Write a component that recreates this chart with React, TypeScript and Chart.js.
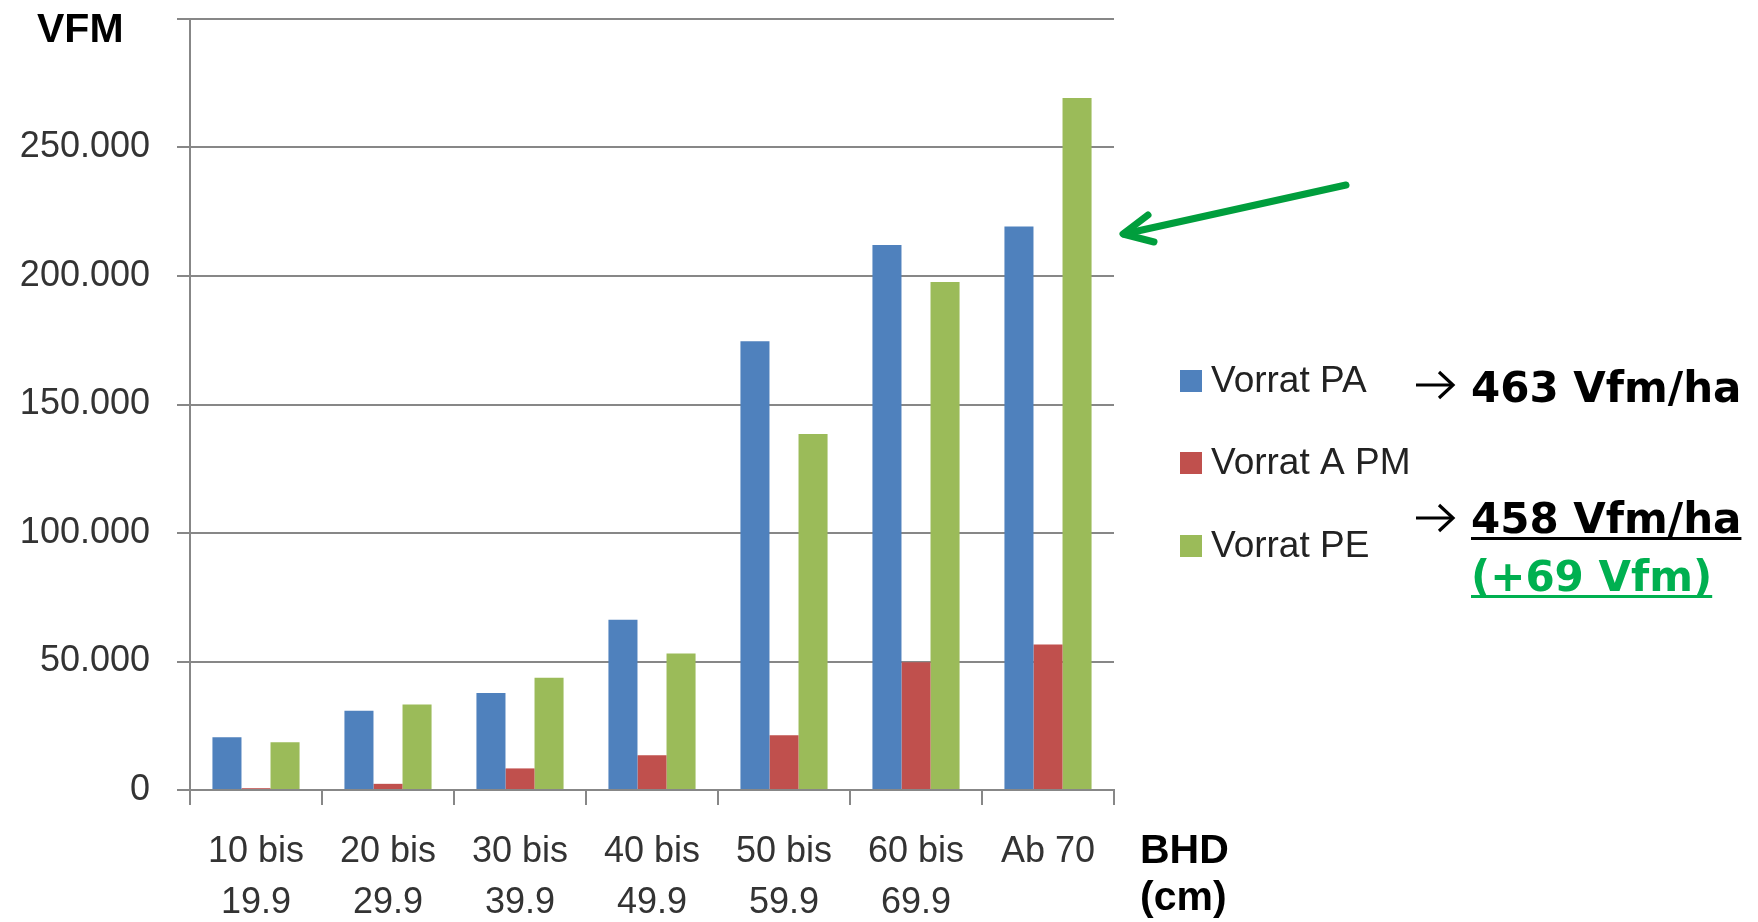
import React, { useEffect, useRef } from "react";
import { Chart, registerables } from "chart.js";

Chart.register(...registerables);

const categoryLine1 = ["10 bis", "20 bis", "30 bis", "40 bis", "50 bis", "60 bis", "Ab 70"];
const categoryLine2 = ["19.9", "29.9", "39.9", "49.9", "59.9", "69.9", ""];
const vorratPA = [20500, 30800, 37700, 66200, 174600, 212100, 219300];
const vorratAPM = [700, 2400, 8400, 13500, 21300, 49700, 56600];
const vorratPE = [18600, 33300, 43700, 53100, 138500, 197700, 269300];
const seriesNames = ["Vorrat PA", "Vorrat A PM", "Vorrat PE"];
const seriesColors = ["#4f81bd", "#c0504d", "#9bbb59"];
const yMax = 300000;
const yStep = 50000;
const yTitle = "VFM";
const xTitle = ["BHD", "(cm)"];
const summaryPA = "463 Vfm/ha";
const summaryPE = "458 Vfm/ha";
const summaryDiff = "(+69 Vfm)";

function drawSmallArrow(ctx: CanvasRenderingContext2D, x0: number, x1: number, y: number) {
  ctx.save();
  ctx.strokeStyle = "#000";
  ctx.lineWidth = 3.2;
  ctx.lineCap = "butt";
  ctx.lineJoin = "miter";
  ctx.beginPath();
  ctx.moveTo(x0, y);
  ctx.lineTo(x1 - 2, y);
  ctx.stroke();
  ctx.beginPath();
  ctx.moveTo(x1 - 14, y - 13);
  ctx.lineTo(x1, y);
  ctx.lineTo(x1 - 14, y + 13);
  ctx.stroke();
  ctx.restore();
}

const annotationPlugin = {
  id: "annotations",
  afterDraw(chart: any) {
    const ctx = chart.ctx as CanvasRenderingContext2D;
    ctx.save();
    // Axis titles
    ctx.fillStyle = "#000";
    ctx.font = "bold 41px 'Liberation Sans', Arial, sans-serif";
    ctx.textAlign = "left";
    ctx.textBaseline = "alphabetic";
    ctx.fillText(yTitle, 37, 42);
    ctx.fillText(xTitle[0], 1140, 863);
    ctx.fillText(xTitle[1], 1140, 910);

    // Legend
    const ds = chart.data.datasets;
    const rowY = [381, 463, 546];
    ctx.font = "37px 'Liberation Sans', Arial, sans-serif";
    ctx.textBaseline = "middle";
    ds.forEach((d: any, i: number) => {
      ctx.fillStyle = d.backgroundColor;
      ctx.fillRect(1180, rowY[i] - 11, 22, 22);
      ctx.fillStyle = "#222";
      ctx.fillText(d.label, 1211, rowY[i] + 1);
    });

    // Right-hand summaries
    drawSmallArrow(ctx, 1416, 1453, 385);
    drawSmallArrow(ctx, 1416, 1453, 518);
    ctx.fillStyle = "#000";
    ctx.font = "bold 42px 'DejaVu Sans', sans-serif";
    ctx.textBaseline = "alphabetic";
    ctx.fillText(summaryPA, 1471, 402);
    ctx.fillText(summaryPE, 1471, 533);
    const w1 = ctx.measureText(summaryPE).width;
    ctx.fillRect(1471, 537, w1, 3);
    ctx.fillStyle = "#00b050";
    ctx.fillText(summaryDiff, 1471, 591);
    const w2 = ctx.measureText(summaryDiff).width;
    ctx.fillRect(1471, 595, w2, 3);

    // Green arrow pointing at the tallest bar
    ctx.strokeStyle = "#009e3d";
    ctx.lineWidth = 7;
    ctx.lineCap = "round";
    ctx.lineJoin = "round";
    ctx.beginPath();
    ctx.moveTo(1346, 185);
    ctx.lineTo(1124, 234);
    ctx.stroke();
    ctx.beginPath();
    ctx.moveTo(1148, 215);
    ctx.lineTo(1123, 234);
    ctx.lineTo(1154, 242);
    ctx.stroke();
    ctx.restore();
  },
};

export default function App() {
  const ref = useRef<HTMLCanvasElement | null>(null);
  useEffect(() => {
    if (!ref.current) return;
    const labels = categoryLine1.map((l, i) => (categoryLine2[i] ? [l, categoryLine2[i]] : [l]));
    const values = [vorratPA, vorratAPM, vorratPE];
    const chart = new Chart(ref.current, {
      type: "bar",
      data: {
        labels,
        datasets: values.map((v, i) => ({
          label: seriesNames[i],
          data: v,
          backgroundColor: seriesColors[i],
          borderWidth: 0,
          categoryPercentage: 0.66,
          barPercentage: 1.0,
        })),
      },
      options: {
        responsive: false,
        animation: false,
        layout: { padding: { left: 0, top: 19, right: 644, bottom: 0 } },
        plugins: { legend: { display: false }, tooltip: { enabled: false } },
        scales: {
          x: {
            offset: true,
            grid: {
              offset: true,
              drawOnChartArea: false,
              drawTicks: true,
              tickLength: 15,
              color: "#878787",
              lineWidth: 2,
            },
            border: { color: "#878787", width: 2 },
            ticks: {
              color: "#333",
              padding: 22,
              maxRotation: 0,
              font: { family: "'Liberation Sans', Arial, sans-serif", size: 36, lineHeight: 1.4 },
            },
            afterFit: (s: any) => {
              s.height = 132;
              s.paddingLeft = 0;
              s.paddingRight = 0;
            },
          },
          y: {
            min: 0,
            max: yMax,
            ticks: {
              stepSize: yStep,
              color: "#333",
              padding: 27,
              font: { family: "'Liberation Sans', Arial, sans-serif", size: 36 },
              callback: (v: any) => (v === yMax ? "" : Number(v).toLocaleString("de-DE")),
            },
            grid: { color: "#878787", lineWidth: 2, tickLength: 13 },
            border: { color: "#878787", width: 2 },
            afterFit: (s: any) => {
              s.width = 190;
              s.paddingTop = 0;
              s.paddingBottom = 0;
            },
          },
        },
      },
      plugins: [annotationPlugin],
    });
    return () => chart.destroy();
  }, []);
  return (
    <div style={{ position: "absolute", left: 0, top: 0, width: 1758, height: 922, background: "#fff" }}>
      <canvas ref={ref} width={1758} height={922} style={{ width: 1758, height: 922 }} />
    </div>
  );
}
